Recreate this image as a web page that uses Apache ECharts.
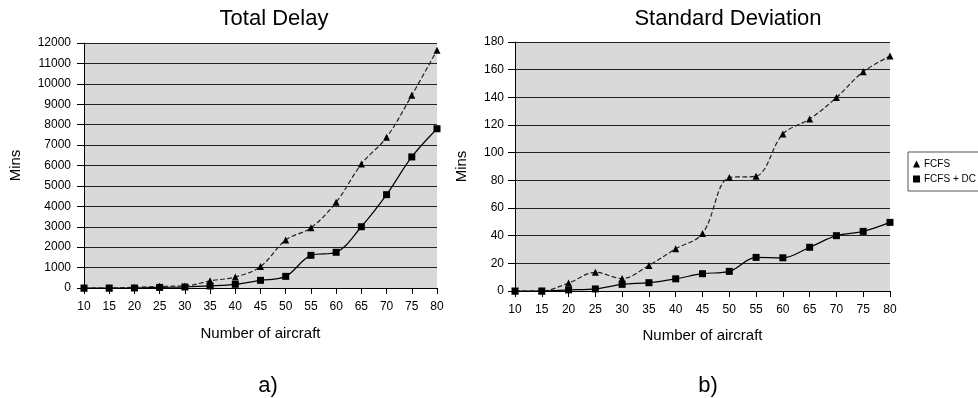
<!DOCTYPE html>
<html>
<head>
<meta charset="utf-8">
<script src="https://cdn.jsdelivr.net/npm/echarts@6/dist/echarts.min.js"></script>
<style>
  html, body { margin: 0; padding: 0; background: #fff; }
  #chart { width: 978px; height: 398px; }
</style>
</head>
<body>
<div id="chart"></div>
<script>
// x categories: number of aircraft
const aircraft = ['10', '15', '20', '25', '30', '35', '40', '45', '50', '55', '60', '65', '70', '75', '80'];

// Total Delay (mins)
const delayFCFS = [0, 0, 30, 80, 100, 350, 540, 1050, 2350, 2950, 4200, 6070, 7380, 9440, 11650];
const delayDC   = [0, 0, 0, 30, 50, 100, 180, 375, 570, 1600, 1750, 3000, 4570, 6420, 7800];

// Standard Deviation (mins)
const sdFCFS = [0, 0, 5.8, 13.5, 9, 18.5, 30.5, 41.5, 82, 83, 113.5, 124.3, 139.8, 158.5, 169.8];
const sdDC   = [0, 0, 0.8, 1.5, 4.8, 6, 8.8, 12.5, 14.2, 24.3, 24, 31.6, 40, 43.1, 49.6];

const font = 'Liberation Sans, Arial, sans-serif';
const chart = echarts.init(document.getElementById('chart'));

const xAxisBase = {
  type: 'category',
  boundaryGap: false,
  data: aircraft,
  name: 'Number of aircraft',
  nameLocation: 'middle',
  nameTextStyle: { color: '#000', fontSize: 15, fontFamily: font },
  axisLine: { lineStyle: { color: '#000', width: 1 } },
  axisTick: { show: true, length: 6, lineStyle: { color: '#000' } },
  axisLabel: { color: '#000', fontSize: 12, fontFamily: font, margin: 13 },
  splitLine: { show: false }
};

const yAxisBase = {
  type: 'value',
  name: 'Mins',
  nameLocation: 'middle',
  nameRotate: 90,
  nameTextStyle: { color: '#000', fontSize: 15, fontFamily: font },
  min: 0,
  axisLine: { show: true, lineStyle: { color: '#000', width: 1 } },
  axisTick: { show: true, length: 7, lineStyle: { color: '#000' } },
  axisLabel: { color: '#000', fontSize: 12, fontFamily: font, margin: 13, formatter: v => String(v) },
  splitLine: { show: true, lineStyle: { color: '#222', width: 1 } }
};

const fcfsLine = { type: 'dashed', dashOffset: 0, color: '#222', width: 1.2 };
const dcLine = { type: 'solid', color: '#000', width: 1.2 };

chart.setOption({
  backgroundColor: '#fff',
  animation: false,
  title: [
    { text: 'Total Delay', left: 269, top: 3, textAlign: 'center',
      textStyle: { fontSize: 22, fontWeight: 'normal', color: '#000', fontFamily: font } },
    { text: 'Standard Deviation', left: 723, top: 3, textAlign: 'center',
      textStyle: { fontSize: 22, fontWeight: 'normal', color: '#000', fontFamily: font } },
    { text: 'a)', left: 263, top: 370, textAlign: 'center',
      textStyle: { fontSize: 22, fontWeight: 'normal', color: '#000', fontFamily: font } },
    { text: 'b)', left: 703, top: 370, textAlign: 'center',
      textStyle: { fontSize: 22, fontWeight: 'normal', color: '#000', fontFamily: font } }
  ],
  legend: {
    orient: 'vertical',
    left: 908,
    top: 152,
    padding: [7, 6, 7, 5],
    itemGap: 5,
    itemWidth: 7,
    itemHeight: 7,
    borderColor: '#555',
    borderWidth: 1,
    backgroundColor: '#fff',
    textStyle: { color: '#000', fontSize: 10, fontFamily: font, padding: [0, 0, 0, -1] },
    data: [
      { name: 'FCFS', icon: 'triangle', itemStyle: { color: '#000' } },
      { name: 'FCFS + DC', icon: 'rect', itemStyle: { color: '#000' } }
    ]
  },
  grid: [
    { left: 84, right: 541, top: 43, bottom: 110, show: true, backgroundColor: '#d9d9d9', borderWidth: 0 },
    { left: 515, right: 88, top: 42, bottom: 107, show: true, backgroundColor: '#d9d9d9', borderWidth: 0 }
  ],
  xAxis: [
    Object.assign({}, xAxisBase, { gridIndex: 0, nameGap: 38 }),
    Object.assign({}, xAxisBase, { gridIndex: 1, nameGap: 37 })
  ],
  yAxis: [
    Object.assign({}, yAxisBase, { gridIndex: 0, max: 12000, interval: 1000, nameGap: 61 }),
    Object.assign({}, yAxisBase, { gridIndex: 1, max: 180, interval: 20, nameGap: 46,
      axisLabel: Object.assign({}, yAxisBase.axisLabel, { margin: 11 }) })
  ],
  series: [
    { name: 'FCFS', type: 'line', xAxisIndex: 0, yAxisIndex: 0, data: delayFCFS, smooth: 0.35,
      symbol: 'triangle', symbolSize: 7, itemStyle: { color: '#000' }, lineStyle: fcfsLine },
    { name: 'FCFS + DC', type: 'line', xAxisIndex: 0, yAxisIndex: 0, data: delayDC, smooth: 0.35,
      symbol: 'rect', symbolSize: 7, itemStyle: { color: '#000' }, lineStyle: dcLine },
    { name: 'FCFS', type: 'line', xAxisIndex: 1, yAxisIndex: 1, data: sdFCFS, smooth: 0.35,
      symbol: 'triangle', symbolSize: 7, itemStyle: { color: '#000' }, lineStyle: fcfsLine },
    { name: 'FCFS + DC', type: 'line', xAxisIndex: 1, yAxisIndex: 1, data: sdDC, smooth: 0.35,
      symbol: 'rect', symbolSize: 7, itemStyle: { color: '#000' }, lineStyle: dcLine }
  ]
});
</script>
</body>
</html>
